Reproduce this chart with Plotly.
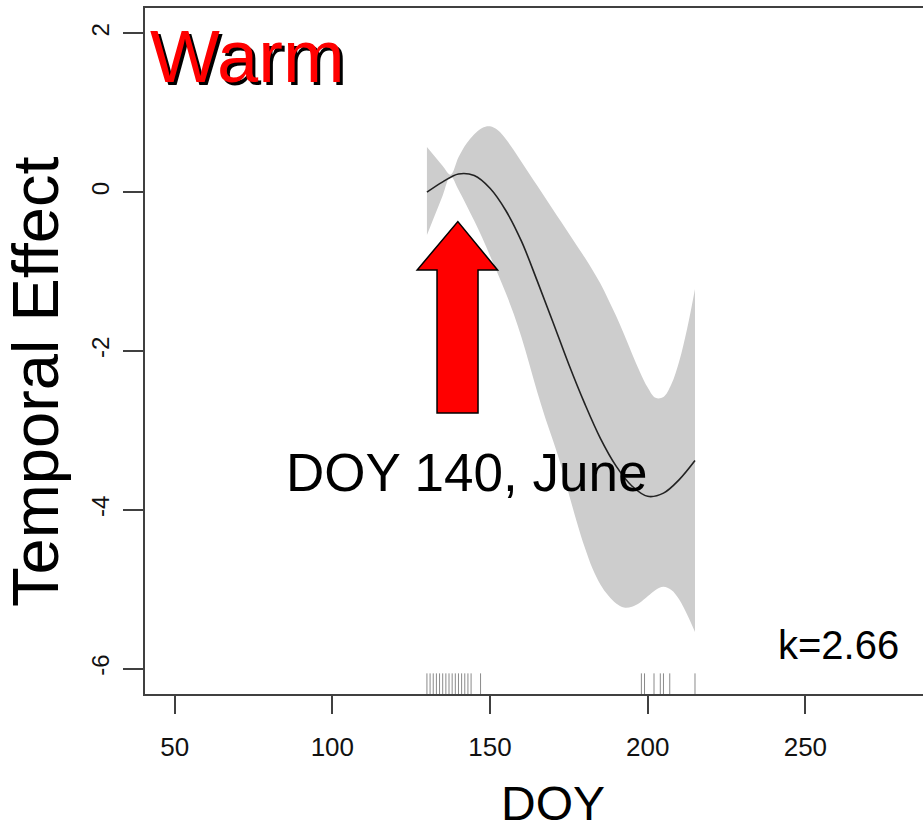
import plotly.graph_objects as go

# ---------------- data ----------------
fit_doy = [130, 135, 140, 145, 150, 155, 160, 165, 170, 175, 180, 185, 190, 195, 200, 205, 210, 215]
fit_val = [0.00, 0.13, 0.23, 0.21, 0.05, -0.23, -0.62, -1.12, -1.64, -2.17, -2.66, -3.10, -3.45, -3.70, -3.83, -3.79, -3.62, -3.38]

band_doy = [130, 132.5, 135, 137.5, 140, 142.5, 145, 147.5, 150, 152.5, 155, 157.5, 160, 162.5, 165, 167.5, 170,
            172.5, 175, 177.5, 180, 182.5, 185, 187.5, 190, 192.5, 195, 197.5, 200, 202.5, 205, 207.5, 210, 212.5, 215]
band_upper = [0.57, 0.45, 0.33, 0.22, 0.44, 0.61, 0.73, 0.81, 0.83, 0.78, 0.67, 0.53, 0.38, 0.23, 0.08, -0.07, -0.22,
              -0.37, -0.52, -0.67, -0.82, -0.98, -1.15, -1.35, -1.56, -1.79, -2.03, -2.26, -2.46, -2.59, -2.58, -2.42,
              -2.13, -1.72, -1.22]
band_lower = [-0.54, -0.29, -0.04, 0.20, 0.03, -0.16, -0.36, -0.57, -0.80, -1.03, -1.27, -1.53, -1.83, -2.17, -2.52,
              -2.84, -3.13, -3.44, -3.80, -4.15, -4.47, -4.74, -4.94, -5.08, -5.18, -5.23, -5.22, -5.17, -5.09, -5.01,
              -4.97, -5.01, -5.13, -5.32, -5.54]

rug_doy = [130, 131, 132, 133, 134, 135, 136, 137, 138, 139, 140, 141, 142, 143, 144, 147,
           198, 199, 202, 204, 205, 207, 215]

x_ticks = [50, 100, 150, 200, 250]
y_ticks = [-6, -4, -2, 0, 2]

# arrow outline (data units)
arrow_x = [133.2, 133.2, 126.9, 139.8, 152.4, 146.2, 146.2]
arrow_y = [-2.78, -0.98, -0.98, -0.37, -0.98, -0.98, -2.78]

X_RANGE = [40.6, 287.3]
Y_RANGE = [-6.32, 2.32]
RUG_TOP = -6.06

FONT = "Liberation Sans, Arial, Helvetica, sans-serif"

fig = go.Figure()

# confidence band
fig.add_trace(go.Scatter(x=band_doy, y=band_lower, mode="lines",
                         line=dict(width=0, shape="spline", smoothing=1.0, color="rgba(0,0,0,0)"),
                         hoverinfo="skip", showlegend=False))
fig.add_trace(go.Scatter(x=band_doy, y=band_upper, mode="lines", fill="tonexty",
                         fillcolor="#CDCDCD",
                         line=dict(width=0, shape="spline", smoothing=1.0, color="rgba(0,0,0,0)"),
                         hoverinfo="skip", showlegend=False))

# fitted curve
fig.add_trace(go.Scatter(x=fit_doy, y=fit_val, mode="lines",
                         line=dict(color="#222222", width=1.6, shape="spline", smoothing=1.0),
                         showlegend=False))

# rug
rx, ry = [], []
for d in rug_doy:
    rx += [d, d, None]
    ry += [Y_RANGE[0], RUG_TOP, None]
fig.add_trace(go.Scatter(x=rx, y=ry, mode="lines", line=dict(color="#8a8a8a", width=1),
                         hoverinfo="skip", showlegend=False))

# arrow
path = "M " + " L ".join(f"{x},{y}" for x, y in zip(arrow_x, arrow_y)) + " Z"
fig.add_shape(type="path", path=path, xref="x", yref="y",
              fillcolor="#FF0000", line=dict(color="black", width=1.5), layer="above")

axis_color = "#404040"
fig.update_xaxes(range=X_RANGE, tickvals=x_ticks, ticktext=[str(v) for v in x_ticks],
                 showgrid=False, zeroline=False, showline=True, linecolor=axis_color, linewidth=1.5,
                 mirror=True, ticks="outside", ticklen=18, tickwidth=1.5, tickcolor=axis_color,
                 tickfont=dict(family=FONT, size=26, color="#111111"), ticklabelstandoff=11)
fig.update_yaxes(range=Y_RANGE, tickvals=y_ticks, ticktext=[str(v) for v in y_ticks],
                 showgrid=False, zeroline=False, showline=True, linecolor=axis_color, linewidth=1.5,
                 mirror=False, ticks="outside", ticklen=20, tickwidth=1.5, tickcolor=axis_color,
                 tickangle=-90, tickfont=dict(family=FONT, size=24, color="#111111"), ticklabelstandoff=5)

annotations = [
    dict(text="DOY", x=0.524, y=-0.160, xref="paper", yref="paper", showarrow=False,
         xanchor="center", yanchor="middle", font=dict(family=FONT, size=48, color="black")),
    dict(text="Temporal Effect", x=-0.140, y=0.455, xref="paper", yref="paper", showarrow=False,
         textangle=-90, xanchor="center", yanchor="middle", font=dict(family=FONT, size=65, color="black")),
    dict(text="Warm", x=0.004, y=0.929, xref="paper", yref="paper", showarrow=False,
         xanchor="left", yanchor="middle", xshift=3, yshift=-3,
         font=dict(family=FONT, size=74, color="black")),
    dict(text="Warm", x=0.004, y=0.929, xref="paper", yref="paper", showarrow=False,
         xanchor="left", yanchor="middle", font=dict(family=FONT, size=74, color="#FF0000")),
    dict(text="DOY 140, June", x=0.4126, y=0.3236, xref="paper", yref="paper", showarrow=False,
         xanchor="center", yanchor="middle", font=dict(family=FONT, size=53, color="black")),
    dict(text="k=2.66", x=0.8914, y=0.0714, xref="paper", yref="paper", showarrow=False,
         xanchor="center", yanchor="middle", font=dict(family=FONT, size=40, color="black")),
]

fig.update_layout(width=923, height=830, margin=dict(l=145, r=0, t=8, b=136),
                  paper_bgcolor="white", plot_bgcolor="white", showlegend=False,
                  annotations=annotations)

fig.write_html("out.html", config={"displayModeBar": False},
               post_script="document.body.style.margin='0px';document.body.style.padding='0px';")
